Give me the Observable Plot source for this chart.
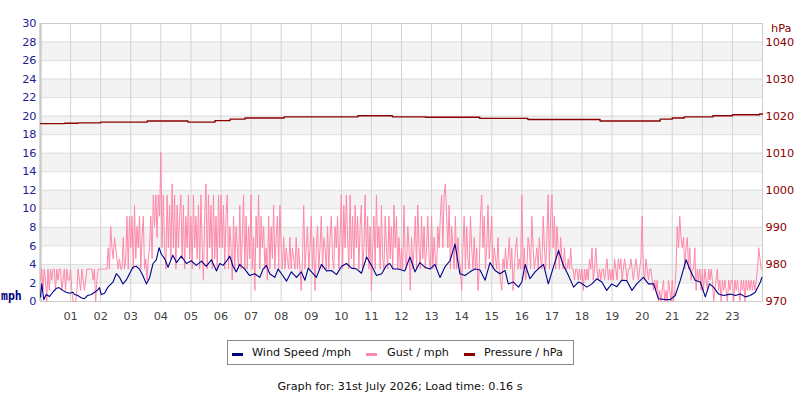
<!DOCTYPE html>
<html><head><meta charset="utf-8">
<script src="https://cdn.jsdelivr.net/npm/d3@7"></script>
<script src="https://cdn.jsdelivr.net/npm/@observablehq/plot@0.6"></script>
<style>
body{margin:0;background:#fff;width:800px;height:400px;position:relative;overflow:hidden;font-family:"DejaVu Sans",sans-serif;}
#chart{position:absolute;left:0;top:0;}
.abs{position:absolute;white-space:nowrap;}
.title{top:6px;left:0;width:800px;text-align:center;font:bold 11.5px "DejaVu Sans Mono",monospace;color:#333;line-height:14px;}
.mph{left:1px;top:289px;font:bold 11.5px "DejaVu Sans Mono",monospace;color:#000080;line-height:14px;}
.hpa{left:771px;top:22px;font-size:11.3px;color:#8b0000;line-height:14px;}
.legend{left:227px;top:340px;width:347px;height:25px;border:1px solid #888;box-sizing:border-box;}
.sw{height:3px;width:11px;top:353px;}
.lt{top:345px;font-size:11.2px;line-height:15px;color:#111;}
.caption{top:379px;left:0;width:800px;text-align:center;font-size:11.2px;color:#111;line-height:15px;}
</style></head>
<body>
<div class="abs title">Daily graph of Weather</div>
<div id="chart" class="abs"></div>
<div class="abs mph">mph</div>
<div class="abs hpa">hPa</div>
<div class="abs legend"></div>
<div class="abs sw" style="left:232px;background:#000080"></div>
<div class="abs lt" style="left:252px">Wind Speed /mph</div>
<div class="abs sw" style="left:366px;background:#ff88aa"></div>
<div class="abs lt" style="left:387px">Gust / mph</div>
<div class="abs sw" style="left:464px;background:#8b0000"></div>
<div class="abs lt" style="left:484px">Pressure / hPa</div>
<div class="abs caption">Graph for: 31st July 2026; Load time: 0.16 s</div>
<script>
// ---- data ----
const hourTicks = [1,2,3,4,5,6,7,8,9,10,11,12,13,14,15,16,17,18,19,20,21,22,23];
const hourLabels = ["01","02","03","04","05","06","07","08","09","10","11","12","13","14","15","16","17","18","19","20","21","22","23"];
const mphTicks = [0,2,4,6,8,10,12,14,16,18,20,22,24,26,28,30];
const bandStarts = [2,6,10,14,18,22,26];
const hpaTicks = [970,980,990,1000,1010,1020,1030,1040];
const hpaLabels = ["970","980","990","1000","1010","1020","1030","1040"];

// wind speed (mph) at hour of day
const windHours = [0,0.04,0.11,0.19,0.3,0.41,0.52,0.61,0.74,0.85,0.97,1.08,1.13,1.24,1.35,1.46,1.57,1.69,1.8,1.91,1.96,2.02,2.13,2.24,2.41,2.52,2.63,2.74,2.85,2.96,3.07,3.18,3.29,3.4,3.52,3.63,3.74,3.85,3.94,4.02,4.13,4.24,4.4,4.52,4.68,4.85,5.01,5.18,5.35,5.51,5.68,5.85,
5.96,6.07,6.18,6.29,6.4,6.51,6.62,6.79,6.95,7.12,7.29,7.4,7.51,7.62,7.79,7.9,8.01,8.18,8.34,8.51,8.67,8.79,8.9,9.06,9.17,9.34,9.51,9.67,9.84,10.01,10.17,10.34,10.51,10.67,10.84,11.0,11.17,11.34,11.5,11.61,11.72,11.89,
12.11,12.28,12.45,12.61,12.78,12.95,13.11,13.28,13.44,13.61,13.78,13.94,14.11,14.28,14.44,14.61,14.78,14.94,15.11,15.27,15.44,15.55,15.72,15.89,16.0,16.11,16.27,16.44,16.61,16.72,16.88,17.05,17.22,17.38,17.55,17.72,17.88,17.97,
18.16,18.33,18.49,18.66,18.82,18.99,19.16,19.32,19.49,19.66,19.82,20.04,20.21,20.38,20.54,20.77,20.93,21.1,21.27,21.46,21.6,21.76,21.93,22.1,22.24,22.37,22.54,22.71,22.93,23.1,23.26,23.43,23.59,23.76,23.93,23.98];
const windSpeed = [0.5,1.9,0.2,0.75,0.55,1.0,1.4,1.5,1.2,1.0,0.9,1.0,0.75,0.65,0.4,0.3,0.65,0.75,1.0,1.25,1.5,0.75,0.9,1.55,2.1,3.0,2.6,1.9,2.3,3.0,3.7,3.8,3.5,2.8,1.9,2.6,4.1,4.5,5.8,5.1,4.6,3.7,5.0,4.2,4.9,4.1,4.4,3.9,4.35,3.8,4.5,3.3,
4.1,3.9,4.35,4.9,3.8,3.2,4.0,3.5,2.8,3.0,2.6,3.5,3.9,3.0,2.6,3.5,3.0,2.2,3.2,2.6,3.2,2.3,3.6,3.0,2.6,4.0,3.3,3.35,2.9,3.8,4.1,3.6,3.5,3.05,4.8,3.9,2.8,3.0,3.9,4.1,3.5,3.5,
3.3,4.8,3.2,4.2,3.7,3.5,4.0,2.6,3.7,4.4,6.2,3.0,2.8,3.2,3.5,3.4,2.3,4.2,3.35,3.0,3.35,1.9,2.1,1.55,2.1,4.0,2.45,3.2,3.7,4.0,1.9,3.7,5.5,3.9,2.8,1.55,2.1,2.0,
1.55,1.9,2.45,2.1,1.2,1.9,1.6,2.3,2.25,1.2,1.9,2.6,1.9,1.9,0.3,0.2,0.2,0.65,2.3,4.5,3.35,2.3,2.1,0.5,1.9,1.55,0.8,0.65,0.8,0.65,0.8,0.5,0.65,1.0,2.1,2.6];

// gust (mph), one reading every 2.5 minutes from 00:00 (24 per hour)
const gust = [
2.3,3.5,1.2,3.5,2.3,0,3.5,1.2,3.5,2.3,3.5,3.5,1.2,3.5,2.3,3.5,3.5,1.2,2.3,3.5,1.2,3.5,2.3,2.3,
3.5,1.2,0,0,0,1.2,3.5,2.3,1.2,3.5,2.3,1.2,2.3,3.5,3.5,3.5,3.5,3.5,2.3,3.5,0,2.3,3.5,3.5,
3.5,3.5,3.5,3.5,3.5,3.5,5.8,3.5,8.1,5.8,4.6,6.9,5.8,4.6,3.5,4.6,3.5,3.5,6.9,3.5,4.6,9.2,3.5,9.2,
5.8,9.2,3.5,10.4,4.6,8.1,5.8,9.2,3.5,6.9,9.2,3.5,4.6,2.3,4.6,5.8,9.2,4.6,11.5,8.1,11.5,6.9,11.5,9.2,
16.1,5.8,11.5,5.8,3.5,11.5,5.8,10.4,4.6,12.7,5.8,11.5,3.5,10.4,5.8,9.2,11.5,4.6,10.4,3.5,9.2,5.8,11.5,4.6,
9.2,3.5,11.5,5.8,9.2,4.6,10.4,3.5,11.5,5.8,2.3,9.2,12.7,3.5,11.5,5.8,10.4,3.5,11.5,4.6,9.2,3.5,11.5,5.8,
11.5,5.8,10.4,3.5,9.2,11.5,3.5,8.1,5.8,2.3,9.2,3.5,8.1,5.8,3.5,10.4,3.5,6.9,11.5,3.5,9.2,3.5,8.1,4.6,
11.5,3.5,6.9,1.2,9.2,5.8,11.5,3.5,9.2,5.8,8.1,3.5,5.8,2.3,9.2,3.5,8.1,4.6,10.4,3.5,6.9,9.2,3.5,10.4,
5.8,3.5,6.9,3.5,5.8,4.6,3.5,6.9,3.5,5.8,4.6,3.5,6.9,3.5,5.8,3.5,1.2,4.6,10.4,3.5,5.8,8.1,3.5,5.8,
9.2,3.5,6.9,1.2,5.8,8.1,3.5,5.8,9.2,3.5,6.9,5.8,3.5,8.1,3.5,6.9,9.2,4.6,3.5,8.1,5.8,9.2,3.5,6.9,
11.5,3.5,10.4,5.8,11.5,6.9,3.5,11.5,4.6,9.2,3.5,10.4,5.8,9.2,3.5,8.1,10.4,3.5,5.8,11.5,4.6,9.2,3.5,8.1,
1.2,5.8,9.2,3.5,11.5,5.8,8.1,3.5,10.4,4.6,3.5,9.2,5.8,3.5,9.2,4.6,8.1,3.5,10.4,5.8,9.2,3.5,6.9,3.5,
5.8,3.5,10.4,4.6,3.5,8.1,5.8,1.2,6.9,3.5,5.8,9.2,3.5,10.4,5.8,3.5,9.2,4.6,8.1,3.5,5.8,9.2,4.6,3.5,
9.2,3.5,6.9,4.6,3.5,8.1,5.8,9.2,11.5,5.8,11.5,12.7,9.2,5.8,10.4,3.5,8.1,5.8,3.5,9.2,3.5,6.9,4.6,3.5,
1.2,5.8,9.2,3.5,8.1,4.6,3.5,9.2,5.8,3.5,6.9,3.5,5.8,1.2,3.5,9.2,11.5,5.8,9.2,3.5,5.8,10.4,4.6,6.9,
9.2,3.5,5.8,4.6,3.5,6.9,3.5,2.3,1.2,4.6,3.5,5.8,3.5,4.6,6.9,3.5,5.8,1.2,3.5,5.8,6.9,3.5,4.6,3.5,
11.5,3.5,5.8,2.3,3.5,6.9,5.8,3.5,9.2,5.8,3.5,4.6,5.8,3.5,6.9,4.6,3.5,9.2,5.8,3.5,6.9,11.5,3.5,9.2,
11.5,5.8,9.2,3.5,8.1,5.8,3.5,6.9,4.6,3.5,5.8,3.5,3.5,4.6,3.5,5.8,3.5,3.5,2.3,3.5,3.5,2.3,3.5,2.3,
3.5,1.2,3.5,2.3,3.5,2.3,4.6,3.5,5.8,2.3,3.5,5.8,3.5,2.3,3.5,2.3,3.5,3.5,2.3,3.5,4.6,2.3,3.5,2.3,
3.5,2.3,4.6,3.5,2.3,4.6,3.5,4.6,2.3,3.5,4.6,3.5,2.3,3.5,3.5,4.6,3.5,2.3,3.5,4.6,3.5,2.3,3.5,4.6,
9.2,3.5,2.3,4.6,3.5,2.3,3.5,3.5,2.3,1.2,2.3,1.2,2.3,0,1.2,0,1.2,2.3,0,1.2,0,2.3,1.2,0,
2.3,0,1.2,3.5,8.1,5.8,9.2,6.9,5.8,6.9,3.5,5.8,6.9,3.5,5.8,2.3,3.5,3.5,5.8,1.2,3.5,2.3,3.5,1.2,
3.5,1.2,3.5,2.3,1.2,3.5,2.3,3.5,2.3,0,1.2,2.3,3.5,1.2,2.3,0,2.3,1.2,2.3,1.2,0,2.3,1.2,2.3,
2.3,0,2.3,1.2,2.3,1.2,0,2.3,1.2,2.3,0,2.3,1.2,2.3,1.2,2.3,1.2,2.3,1.2,2.3,3.5,5.8,4.6,3.5];

// pressure (hPa), step changes at hour of day
const pressureHours = [0,0.8,1.25,2.0,3.55,4.9,5.8,6.3,6.8,8.1,10.55,11.7,12.8,14.6,16.2,18.6,20.6,21.0,21.4,22.35,23.0,23.9,24];
const pressure = [1018.0,1018.1,1018.2,1018.4,1018.7,1018.4,1018.8,1019.2,1019.5,1019.8,1020.1,1019.8,1019.7,1019.4,1019.1,1018.7,1019.2,1019.5,1019.8,1020.1,1020.4,1020.6,1020.6];

// ---- build ----
const windData = windHours.map((h,i)=>({h, v: windSpeed[i]}));
const gustData = gust.map((v,i)=>({h: i*2.5/60, v}));
const pData = pressureHours.map((h,i)=>({h, p: pressure[i]}));
const hpaMin = 970, hpaMax = 1045, mphMax = 30;
const pToY = p => (p - hpaMin) * mphMax / (hpaMax - hpaMin);
const hpaPos = hpaTicks.map(pToY);

const chart = Plot.plot({
  width: 800, height: 330,
  marginLeft: 40, marginRight: 38, marginTop: 23, marginBottom: 29,
  style: {fontFamily: "DejaVu Sans, sans-serif", fontSize: "11px", background: "white"},
  x: {domain: [0, 24], label: null},
  y: {domain: [0, 30], label: null},
  marks: [
    Plot.rect(bandStarts, {x1: 0, x2: 24, y1: d => d, y2: d => d + 2, fill: "#f3f3f3"}),
    Plot.ruleY(mphTicks, {stroke: "#dddddd"}),
    Plot.ruleX(hourTicks, {stroke: "#d3d3d3"}),
    Plot.frame({stroke: "#cccccc"}),
    Plot.ruleX([0], {stroke: "#cccccc", strokeWidth: 2.5}),
    Plot.line(gustData, {x: "h", y: "v", stroke: "#ff88aa", strokeWidth: 1}),
    Plot.line(windData, {x: "h", y: "v", stroke: "#00008b", strokeWidth: 1.1}),
    Plot.line(pData, {x: "h", y: d => pToY(d.p), curve: "step-after", stroke: "#8b0000", strokeWidth: 1.4}),
    Plot.axisY({ticks: mphTicks, anchor: "left", tickSize: 0, tickPadding: 4, color: "#1c1c96", label: null, fontSize: 11.3}),
    Plot.axisY({ticks: hpaPos, anchor: "right", tickSize: 0, tickPadding: 3, tickFormat: (d) => hpaLabels[hpaPos.indexOf(d)], color: "#8b0000", label: null, fontSize: 11.3}),
    Plot.axisX({ticks: hourTicks, tickSize: 0, tickPadding: 10, tickFormat: (d) => hourLabels[hourTicks.indexOf(d)], color: "#444", label: null, fontSize: 11.3})
  ]
});
document.getElementById("chart").appendChild(chart);
</script>
</body></html>
